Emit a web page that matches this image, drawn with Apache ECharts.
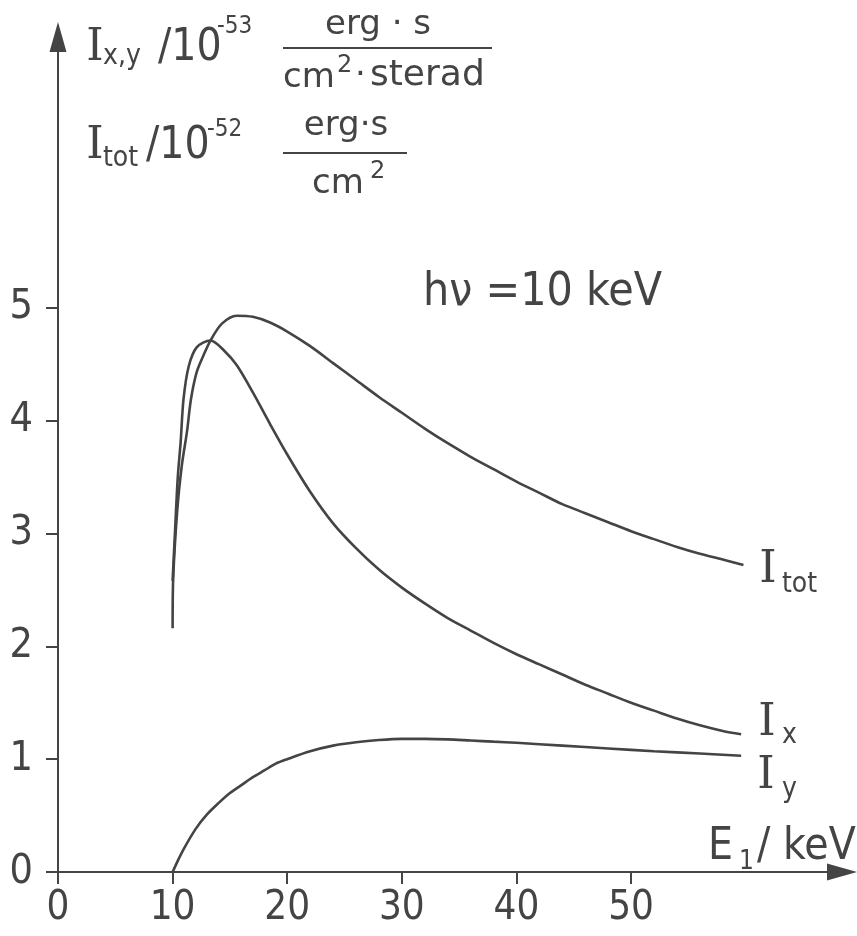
<!DOCTYPE html>
<html>
<head>
<meta charset="utf-8">
<script src="https://cdn.jsdelivr.net/npm/echarts@6/dist/echarts.min.js"></script>
<style>
html,body{margin:0;padding:0;background:#fff;}
#chart{width:857px;height:936px;}
</style>
</head>
<body>
<div id="chart"></div>
<script>
// E1 in keV, intensities in the units given on the y axis
const xTicks = [0, 10, 20, 30, 40, 50];
const yTicks = [0, 1, 2, 3, 4, 5];

const Itot = [[10.0,2.16],[10.05,2.6],[10.4,3.2],[10.8,3.6],[11.25,3.90],[11.6,4.19],[12.1,4.43],[12.7,4.58],[13.3,4.71],[14.3,4.86],[15.6,4.93],[17,4.92],[18.5,4.87],[20,4.79],[22,4.66],[24,4.51],[26,4.36],[28,4.21],[30,4.07],[32,3.93],[34,3.80],[36,3.68],[38,3.57],[40,3.46],[42,3.36],[44,3.26],[46,3.18],[48,3.10],[50,3.02],[52,2.95],[54,2.88],[56,2.82],[58,2.77],[59.8,2.72]];
const Ix = [[10.0,2.58],[10.2,3.0],[10.45,3.5],[10.7,3.81],[10.95,4.19],[11.4,4.48],[12.1,4.65],[13.3,4.71],[14.5,4.62],[15.6,4.49],[17,4.25],[18.5,3.97],[20,3.70],[22,3.37],[24,3.09],[26,2.87],[28,2.68],[30,2.52],[32,2.38],[34,2.25],[36,2.14],[38,2.03],[40,1.93],[42,1.84],[44,1.75],[46,1.66],[48,1.58],[50,1.50],[52,1.43],[54,1.36],[56,1.30],[58,1.25],[59.6,1.22]];
const Iy = [[10,0],[10.5,0.11],[11,0.21],[12,0.38],[13,0.51],[14,0.61],[15,0.70],[16,0.77],[17,0.84],[18,0.90],[19,0.96],[20,1.00],[22,1.07],[24,1.12],[26,1.15],[28,1.17],[30,1.18],[32,1.18],[34,1.175],[36,1.165],[38,1.155],[40,1.145],[44,1.12],[48,1.095],[52,1.07],[56,1.05],[59.6,1.03]];

const INK = '#444';
const SANS = '"DejaVu Sans Condensed","DejaVu Sans",sans-serif';
const WIDE = '"DejaVu Sans",sans-serif';
const SERIF = '"DejaVu Serif",serif';

function txt(text, x, y, size, opts) {
  opts = opts || {};
  const fam = opts.serif ? SERIF : (opts.wide ? WIDE : SANS);
  return {
    type: 'text', silent: true,
    style: {
      text: text, x: x, y: y,
      font: size + 'px ' + fam,
      fill: INK,
      align: opts.align || 'left',
      verticalAlign: 'middle'
    }
  };
}
function hline(x1, x2, y) {
  return { type: 'line', silent: true, shape: {x1: x1, y1: y, x2: x2, y2: y}, style: {stroke: INK, lineWidth: 2} };
}

const chart = echarts.init(document.getElementById('chart'));
const lineStyle = {color: INK, width: 2.6};
const common = {type: 'line', smooth: 0.3, symbol: 'none', lineStyle: lineStyle};
chart.setOption({
  animation: false,
  backgroundColor: '#fff',
  grid: {left: 58, right: 15, top: 37, bottom: 64, containLabel: false},
  xAxis: {
    type: 'value', min: 0, max: 68.4,
    splitLine: {show: false},
    axisLine: {onZero: false, symbol: ['none', 'triangle'], symbolSize: [17, 30], lineStyle: {color: INK, width: 2}},
    axisTick: {customValues: xTicks, length: 12, lineStyle: {color: INK, width: 2}},
    axisLabel: {customValues: xTicks, margin: 17, fontSize: 40, fontFamily: SANS, color: INK}
  },
  yAxis: {
    type: 'value', min: 0, max: 7.4,
    splitLine: {show: false},
    axisLine: {show: true, onZero: false, symbol: ['none', 'triangle'], symbolSize: [17, 30], lineStyle: {color: INK, width: 2}},
    axisTick: {show: true, customValues: yTicks, length: 12, lineStyle: {color: INK, width: 2}},
    axisLabel: {customValues: yTicks, margin: 25, fontSize: 41, fontFamily: SANS, color: INK}
  },
  series: [
    Object.assign({name: 'Itot', data: Itot}, common),
    Object.assign({name: 'Ix', data: Ix}, common),
    Object.assign({name: 'Iy', data: Iy}, common)
  ],
  graphic: [
    // y axis title, line 1
    txt('I', 95, 49, 44, {serif: true, align: 'center'}),
    txt('x,y', 103, 57, 28),
    txt('/10', 158, 49, 44),
    txt('-53', 217, 27, 24),
    txt('erg · s', 378, 25, 34, {align: 'center', wide: true}),
    hline(283, 492, 48),
    txt('cm', 283, 78, 34, {wide: true}),
    txt('2', 337, 66, 24, {wide: true}),
    txt('·', 355, 76, 34, {wide: true}),
    txt('sterad', 370, 76, 36, {wide: true}),
    // y axis title, line 2
    txt('I', 95, 147, 44, {serif: true, align: 'center'}),
    txt('tot', 103, 159, 28),
    txt('/10', 146, 147, 44),
    txt('-52', 207, 130, 24),
    txt('erg·s', 346, 126, 34, {align: 'center', wide: true}),
    hline(283, 407, 153),
    txt('cm', 312, 184, 34, {wide: true}),
    txt('2', 370, 172, 24, {wide: true}),
    // annotation
    txt('hν =10 keV', 423, 293, 46),
    // curve labels
    txt('I', 768, 571, 44, {serif: true, align: 'center'}),
    txt('tot', 782, 585, 28),
    txt('I', 767, 724, 44, {serif: true, align: 'center'}),
    txt('x', 782, 736, 28),
    txt('I', 766, 777, 44, {serif: true, align: 'center'}),
    txt('y', 782, 790, 28),
    // x axis title
    txt('E', 708, 848, 44),
    txt('1', 739, 862, 26),
    txt('/ keV', 757, 848, 44)
  ]
});
</script>
</body>
</html>
